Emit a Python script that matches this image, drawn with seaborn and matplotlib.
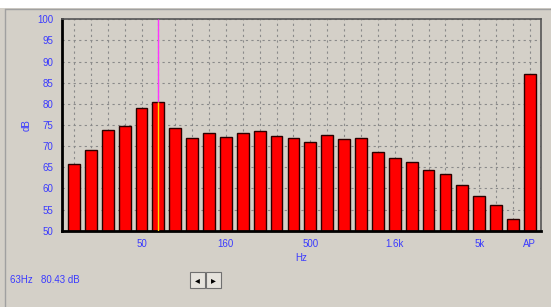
import matplotlib
matplotlib.use("Agg")
import matplotlib.pyplot as plt
from matplotlib.patches import Rectangle
import seaborn as sns
import pandas as pd

# 1/3 octave band levels
bands = ["20", "25", "31.5", "40", "50", "63", "80", "100", "125", "160",
         "200", "250", "315", "400", "500", "630", "800", "1k", "1.25k",
         "1.6k", "2k", "2.5k", "3.15k", "4k", "5k", "6.3k", "8k", "AP"]
levels = [65.7, 69.1, 73.8, 74.8, 79.1, 80.43, 74.3, 72.0, 73.1, 72.2,
          73.1, 73.6, 72.4, 71.9, 71.0, 72.6, 71.8, 72.0, 68.7, 67.1,
          66.3, 64.4, 63.3, 60.8, 58.2, 56.0, 52.7, 87.1]
shown_labels = ["50", "160", "500", "1.6k", "5k", "AP"]
y_ticks = list(range(50, 101, 5))
cursor_band = "63"

BG = "#d4d0c8"
BLUE = "#3a3aff"
FONT = "Liberation Sans"

sns.set_style("white")
plt.rcParams["font.family"] = [FONT, "DejaVu Sans"]

df = pd.DataFrame({"band": bands, "level": levels})

fig = plt.figure(figsize=(5.51, 3.07), dpi=100, facecolor=BG)
ax = fig.add_axes([0.1125, 0.2485, 0.869, 0.6885], facecolor=BG)

# grid behind bars
ax.set_axisbelow(True)
sns.barplot(data=df, x="band", y="level", order=bands, color="#ff0000",
            saturation=1, width=0.7, edgecolor="#2a0000", linewidth=1.0, ax=ax)

n = len(bands)
ax.set_xlim(-0.71, n - 1 + 0.65)
ax.set_ylim(50, 100)
ax.set_yticks(y_ticks)
ax.set_yticklabels([str(v) for v in y_ticks], color=BLUE, fontsize=7)
ax.set_xticks(range(n))
ax.set_xticklabels([b if b in shown_labels else "" for b in bands],
                   color=BLUE, fontsize=7)
ax.tick_params(axis="y", length=0, pad=6)
ax.tick_params(axis="x", length=3, width=0.6, color="#808080", pad=3, direction="out")

ax.grid(True, which="major", color="#8a8a8a", linestyle=(0, (2, 3)), linewidth=0.8)

ax.set_xlabel("")
ax.set_ylabel("dB", color=BLUE, fontsize=7, labelpad=4)
ax.text(bands.index("500") - 0.55, -0.105, "Hz", transform=ax.get_xaxis_transform(),
        color=BLUE, fontsize=7, ha="center", va="top")

for side in ["left", "bottom"]:
    ax.spines[side].set_color("#000000")
    ax.spines[side].set_linewidth(2.0)
for side in ["top", "right"]:
    ax.spines[side].set_color("#555555")
    ax.spines[side].set_linewidth(1.2)

# cursor on the selected band
ci = bands.index(cursor_band)
cv = levels[ci]
ax.vlines(ci, cv, 100, color="#ff33ff", linewidth=1.0, zorder=5)
ax.vlines(ci, 50, cv, color="#ffd800", linewidth=1.0, zorder=5)

# readout below the chart
fig.text(10 / 551, 1 - 280 / 307, f"{cursor_band}Hz   {cv:.2f} dB", color=BLUE,
         fontsize=7, va="center", ha="left")

# window frame: white strip on top and thin border lines
fig.patches.append(Rectangle((0, 1 - 8 / 307), 1, 8 / 307, transform=fig.transFigure,
                             facecolor="white", edgecolor="none", zorder=0))
fig.lines.append(plt.Line2D([4.5 / 551, 4.5 / 551], [0, 1 - 8.5 / 307],
                            transform=fig.transFigure, color="#a0a0a0", linewidth=1))
fig.lines.append(plt.Line2D([4.5 / 551, 1], [1 - 8.5 / 307, 1 - 8.5 / 307],
                            transform=fig.transFigure, color="#a0a0a0", linewidth=1))

# scroll buttons
for x0, glyph in [(190, "\u25c2"), (206, "\u25b8")]:
    fig.patches.append(Rectangle((x0 / 551, 1 - 288 / 307), 15 / 551, 16 / 307,
                                 transform=fig.transFigure, facecolor="#e6e3dd",
                                 edgecolor="#707070", linewidth=0.8))
    fig.text((x0 + 7.5) / 551, 1 - 280 / 307, glyph, fontsize=7, color="black",
             ha="center", va="center", family="DejaVu Sans")

fig.savefig("out.png", dpi=100, facecolor=BG)
